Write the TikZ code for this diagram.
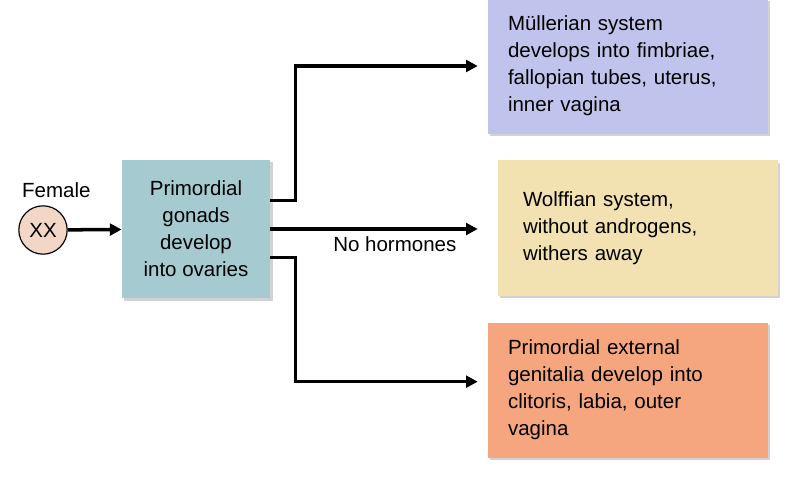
\documentclass[tikz,border=0pt]{standalone}
\usepackage{fontspec}
\setmainfont{Liberation Sans}
\usetikzlibrary{arrows.meta, positioning, shadows}
\definecolor{gonad}{RGB}{165,203,208}
\definecolor{muller}{RGB}{192,196,236}
\definecolor{wolff}{RGB}{242,226,178}
\definecolor{genit}{RGB}{246,166,126}
\definecolor{xxfill}{RGB}{242,214,198}

\tikzset{
    devbox/.style={minimum width=8.4cm, minimum height=4.05cm, text width=7.2cm, align=left,
        drop shadow={shadow xshift=2pt, shadow yshift=-2pt, opacity=0.35}},
    flow/.style={-{Triangle[length=10pt, width=10pt]}, line width=3pt},
    lbl/.style={font=\fontsize{17.5}{23}\selectfont}
}

\begin{document}
\begin{tikzpicture}[x=0.03cm, y=-0.03cm, lbl]
            \useasboundingbox[fill=white] (0,0) rectangle (786,479);
            \node (xx) [draw, circle, fill=xxfill, line width=1pt, minimum size=1.45cm, inner sep=0pt] at (43,230) {XX};
            \node (female) [above=0.1cm of xx, xshift=0.4cm] {Female};
            \node (gonads) [minimum width=4.45cm, minimum height=4.15cm, fill=gonad, align=center,
                drop shadow={shadow xshift=2pt, shadow yshift=-2pt, opacity=0.35}] at (196,229) {Primordial\\gonads\\develop\\into ovaries};

            \node (mullerian) [devbox, fill=muller] at (628,66) {Müllerian system\\develops into fimbriae,\\fallopian tubes, uterus,\\inner vagina};
            \node (wolffian) [devbox, fill=wolff, text width=6.9cm, xshift=0.3cm] at (628,228) {Wolffian system,\\without androgens,\\withers away};
            \node (external) [devbox, fill=genit] at (628,390) {Primordial external\\genitalia develop into\\clitoris, labia, outer\\vagina};

                \draw[flow] (xx) -- (gonads);

                \coordinate (top_out) at ([yshift=0.85cm]gonads.east);
                \coordinate (bottom_out) at ([yshift=-0.85cm]gonads.east);
                \draw[flow] (top_out) -- ++(25,0) |- ([xshift=-0.3cm]mullerian.west);
                \draw[flow] (gonads.east) -- ([xshift=-0.3cm]gonads.east -| external.west) node (nohorm) [pos=0.6, below, yshift=-0.05cm] {No hormones};
                \draw[flow] (bottom_out) -- ++(25,0) |- ([xshift=-0.3cm, yshift=0.25cm]external.west);
            \end{tikzpicture}
\end{document}
